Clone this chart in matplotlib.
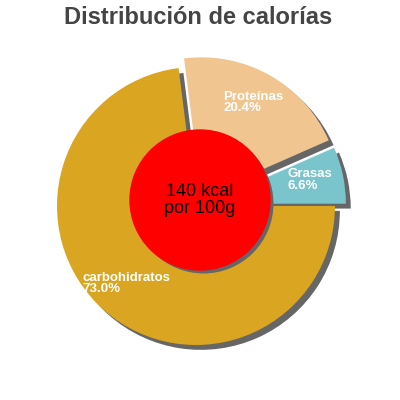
import matplotlib
matplotlib.use('Agg')
import numpy as np
import matplotlib.pyplot as plt
import matplotlib.patheffects as pe

plt.rcParams['font.family'] = ['Liberation Sans', 'DejaVu Sans']

labels = ['Grasas', 'Proteínas', 'carbohidratos']
values = [6.6, 20.4, 73.0]
colors = ['#7ac4cc', '#f0c590', '#daa520']
explode = [0.08, 0.08, 0.0]
center_text = '140 kcal\npor 100g'
title = 'Distribución de calorías'

fig = plt.figure(figsize=(4, 4), dpi=100)
ax = fig.add_axes([0, 0, 1, 1])

cx, cy, r = 196, 194, 139
shadow = [pe.SimplePatchShadow(offset=(3.5, -3.5), shadow_rgbFace='#666666', alpha=1.0), pe.Normal()]

# pie's explode is in data units, so scale by the radius
wedges, _ = ax.pie(values, colors=colors, explode=[e * r for e in explode], startangle=0,
                   counterclock=True, center=(cx, cy), radius=r, frame=True,
                   wedgeprops=dict(linewidth=0, path_effects=shadow))
ax.set_xlim(0, 400)
ax.set_ylim(0, 400)
ax.set_aspect('equal')
ax.axis('off')

for w, lab, v, ex in zip(wedges, labels, values, explode):
    mid = np.deg2rad((w.theta1 + w.theta2) / 2)
    ox = cx + ex * r * np.cos(mid)
    oy = cy + ex * r * np.sin(mid)
    tx = ox + 0.76 * r * np.cos(mid)
    ty = oy + 0.76 * r * np.sin(mid) + 2
    ax.text(tx, ty, f'{lab}\n{v:.1f}%', color='white', fontsize=9.5, fontweight='bold',
            ha='center', va='center', multialignment='left', linespacing=0.9)

circle = plt.Circle((200, 200), 70, color='#ff0000', zorder=5,
                    path_effects=[pe.SimplePatchShadow(offset=(2.5, -2.5), shadow_rgbFace='#666666', alpha=1.0), pe.Normal()])
ax.add_patch(circle)
ax.text(200, 200, center_text, ha='center', va='center', fontsize=13, color='black',
        linespacing=1.0, zorder=6)

ax.text(198, 382, title, ha='center', va='center', fontsize=17, fontweight='bold', color='#444444')

fig.savefig('out.png', dpi=100)
